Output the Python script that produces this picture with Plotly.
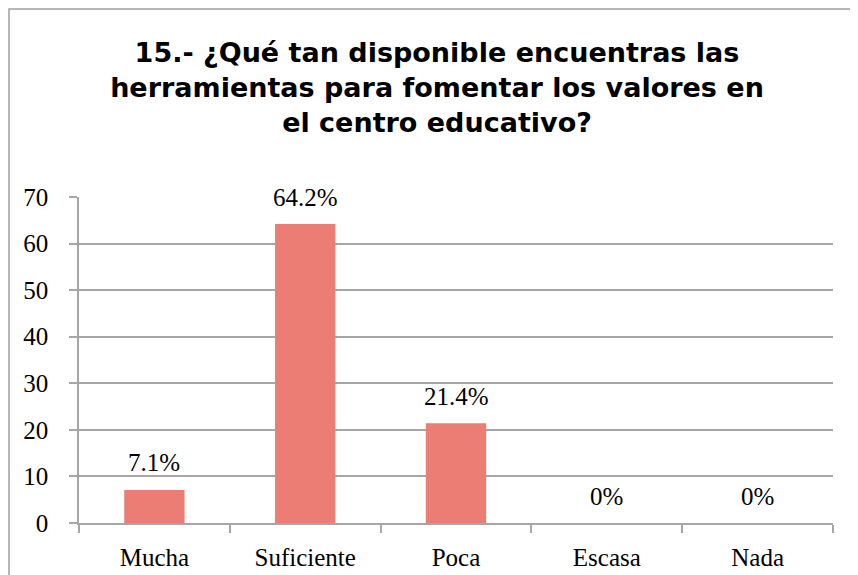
import plotly.graph_objects as go

categories = ["Mucha", "Suficiente", "Poca", "Escasa", "Nada"]
values = [7.1, 64.2, 21.4, 0, 0]
y_ticks = [0, 10, 20, 30, 40, 50, 60, 70]

title = ("15.- ¿Qué tan disponible encuentras las<br>"
         "herramientas para fomentar los valores en<br>"
         "el centro educativo?")

serif = "Liberation Serif"
grid = "#A6A6A6"

fig = go.Figure(go.Bar(
    x=categories,
    y=values,
    width=0.4,
    marker=dict(color="#EC7D75", line=dict(width=0)),
    showlegend=False,
))

# value labels above the bars
for c, v in zip(categories, values):
    fig.add_annotation(
        x=c, y=v, text=f"{v:g}%", showarrow=False,
        yanchor="middle", yshift=27,
        font=dict(family=serif, size=25, color="#000000"),
    )

# page body adds 8px, so margins are shifted to compensate
fig.update_layout(
    width=858, height=575,
    margin=dict(l=71, r=33, t=189, b=60),
    paper_bgcolor="white", plot_bgcolor="white",
    title=dict(
        text=title, x=0.5, xanchor="center",
        y=1 - 54 / 575, yanchor="middle", yref="container",
        font=dict(family="DejaVu Sans", size=27, color="#000000", weight="bold"),
    ),
    bargap=0.6,
    shapes=[dict(
        type="rect", xref="paper", yref="paper",
        x0=-70 / 754, x1=1.2, y0=-0.5, y1=1 + 188 / 326,
        line=dict(color="#A0A0A0", width=1.5), layer="below",
    )],
)

fig.update_xaxes(
    showline=True, linecolor=grid, linewidth=1.5,
    ticks="outside", ticklen=8, tickcolor=grid, tickwidth=1.5,
    tickson="boundaries", showgrid=False, ticklabelstandoff=11,
    tickfont=dict(family=serif, size=25, color="#000000"),
)
fig.update_yaxes(
    range=[0, 70], tickvals=y_ticks,
    showline=True, linecolor=grid, linewidth=1.5,
    ticks="outside", ticklen=8, tickcolor=grid, tickwidth=1.5,
    showgrid=True, gridcolor=grid, gridwidth=1.5,
    zeroline=False, ticklabelstandoff=16,
    tickfont=dict(family=serif, size=25, color="#000000"),
)

fig.write_html("out.html")
